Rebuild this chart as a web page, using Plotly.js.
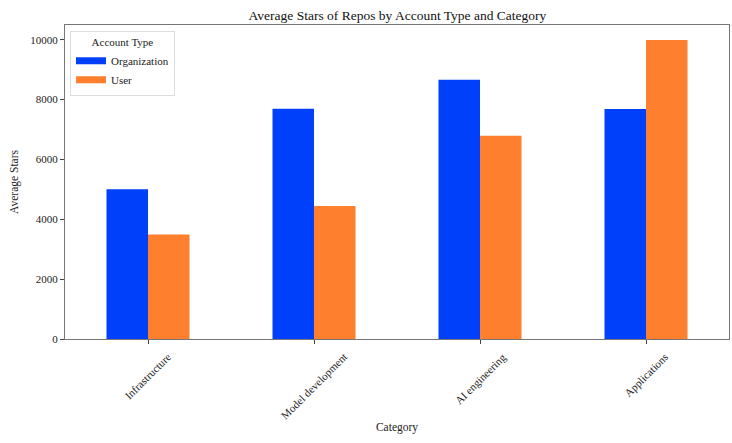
<!DOCTYPE html>
<html><head><meta charset="utf-8">
<script src="https://cdn.plot.ly/plotly-3.0.1.min.js"></script>
<style>html,body{margin:0;padding:0;background:#fff;}#chart{width:732px;height:443px;}</style>
</head><body><div id="chart"></div>
<script>
const categories = ["Infrastructure", "Model development", "AI engineering", "Applications"];
const organization = [5000, 7690, 8660, 7680];
const user = [3490, 4440, 6790, 9990];
const seriesNames = ["Organization", "User"];
const seriesColors = ["#0140FA", "#FE7F2D"];
const yTicks = [0, 2000, 4000, 6000, 8000, 10000];

const font = "Liberation Serif, DejaVu Serif, serif";
const data = [
  {type: "bar", name: seriesNames[0], x: categories, y: organization, marker: {color: seriesColors[0]}, showlegend: false},
  {type: "bar", name: seriesNames[1], x: categories, y: user, marker: {color: seriesColors[1]}, showlegend: false},
  {type: "scatter", mode: "lines", name: seriesNames[0], x: [null], y: [null], line: {color: seriesColors[0], width: 7}},
  {type: "scatter", mode: "lines", name: seriesNames[1], x: [null], y: [null], line: {color: seriesColors[1], width: 7}}
];
const tickAnnotations = categories.map(c => ({
  x: c, xref: "x", y: 0, yref: "paper", xanchor: "center", yanchor: "top",
  yshift: -9, textangle: -45, showarrow: false, text: c,
  font: {family: font, size: 11, color: "#222"}
}));
const layout = {
  width: 732, height: 443,
  margin: {l: 65, r: 3, t: 25, b: 104},
  paper_bgcolor: "#fff", plot_bgcolor: "#fff",
  font: {family: font, color: "#222", size: 11},
  title: {text: "Average Stars of Repos by Account Type and Category", font: {family: font, size: 13.5, color: "#111"}, x: 0.543, xanchor: "center", y: 0.965, yanchor: "middle"},
  barmode: "group", bargap: 0.5, bargroupgap: 0,
  xaxis: {
    type: "category", range: [-0.5, 3.5], ticks: "outside", ticklen: 4, tickcolor: "#444",
    showticklabels: false,
    showline: true, linecolor: "#777", linewidth: 1, mirror: true, showgrid: false,
    title: {text: "Category", font: {family: font, size: 11.5, color: "#222"}, standoff: 79}
  },
  yaxis: {
    range: [0, 10490], tickvals: yTicks, ticktext: yTicks.map(String), ticks: "outside", ticklen: 4, tickcolor: "#444",
    showline: true, linecolor: "#777", linewidth: 1, mirror: true, showgrid: false, zeroline: false,
    tickfont: {family: font, size: 11, color: "#222"},
    title: {text: "Average Stars", font: {family: font, size: 11.5, color: "#222"}, standoff: 9}
  },
  annotations: tickAnnotations,
  legend: {
    x: 0.0075, y: 0.981, xanchor: "left", yanchor: "top",
    bgcolor: "rgba(255,255,255,0.9)", bordercolor: "#ddd", borderwidth: 1,
    font: {family: font, size: 11, color: "#222"},
    title: {text: "Account Type", font: {family: font, size: 11, color: "#222"}, side: "top center"},
    itemwidth: 30, tracegroupgap: 0
  },
  showlegend: true
};
Plotly.newPlot("chart", data, layout, {displayModeBar: false, staticPlot: true});
</script></body></html>
